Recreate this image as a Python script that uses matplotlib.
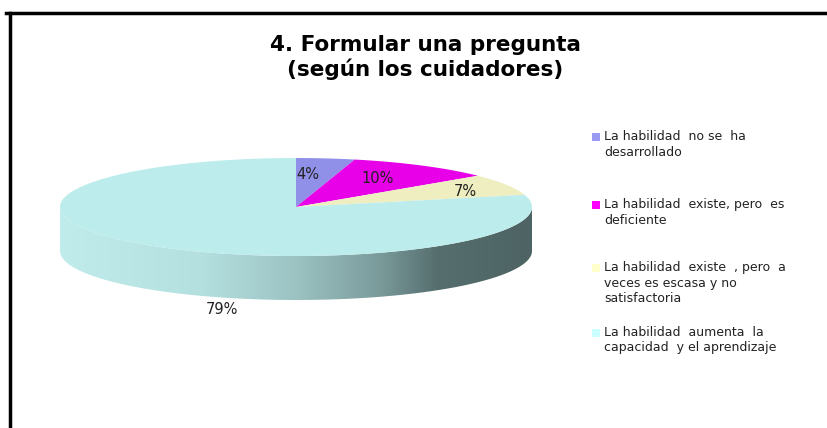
import numpy as np
import matplotlib
matplotlib.use("Agg")
import matplotlib.pyplot as plt
from matplotlib.patches import Polygon, Rectangle
from matplotlib.colors import LinearSegmentedColormap
from matplotlib.lines import Line2D

title = "4. Formular una pregunta\n(según los cuidadores)"
categories = [
    "La habilidad  no se  ha\ndesarrollado",
    "La habilidad  existe, pero  es\ndeficiente",
    "La habilidad  existe  , pero  a\nveces es escasa y no\nsatisfactoria",
    "La habilidad  aumenta  la\ncapacidad  y el aprendizaje",
]
values = [4, 10, 7, 79]
pct_labels = ["4%", "10%", "7%", "79%"]
slice_colors = ["#9090E8", "#E800E8", "#EEEEC0", "#BDECEC"]
legend_colors = ["#9999F2", "#FF00FF", "#FFFFCC", "#CCFFFF"]

W, H = 827, 428
fig = plt.figure(figsize=(W / 100, H / 100), dpi=100)
ax = fig.add_axes([0, 0, 1, 1])
ax.set_xlim(0, W)
ax.set_ylim(H, 0)
ax.axis("off")

plt.rcParams["font.family"] = ["DejaVu Sans"]

# frame
ax.add_line(Line2D([6, 826], [13, 13], color="black", lw=2.5))
ax.add_line(Line2D([9.5, 9.5], [13, 428], color="black", lw=2.5))

# pie geometry
cx, cy, a, b, depth = 296, 207, 236, 49, 44

def pt(theta, dy=0):
    return cx + a * np.sin(theta), cy - b * np.cos(theta) + dy

# side (front half, from 90 to 270 deg clockwise from top)
th = np.linspace(np.pi / 2, 3 * np.pi / 2, 200)
top_x, top_y = pt(th)
bot_x, bot_y = pt(th[::-1], depth)
side = np.column_stack([np.concatenate([top_x, bot_x]), np.concatenate([top_y, bot_y])])
side_poly = Polygon(side, closed=True, facecolor="none", edgecolor="none")
ax.add_patch(side_poly)
cmap = LinearSegmentedColormap.from_list(
    "side",
    [(0.0, "#C0ECEC"), (0.3, "#B4E0E0"), (0.5, "#9CC2C2"), (0.68, "#7A9A9A"),
     (0.8, "#566E6E"), (1.0, "#4E6464")])
grad = np.linspace(0, 1, 256).reshape(1, -1)
im = ax.imshow(grad, cmap=cmap, extent=[cx - a, cx + a, cy + b + depth, cy - b],
               aspect="auto", zorder=1)
im.set_clip_path(side_poly)

# top wedges
cum = np.concatenate([[0], np.cumsum(values)]) / sum(values) * 2 * np.pi
for i, v in enumerate(values):
    t = np.linspace(cum[i], cum[i + 1], 200)
    xs, ys = pt(t)
    poly = np.column_stack([np.concatenate([[cx], xs]), np.concatenate([[cy], ys])])
    ax.add_patch(Polygon(poly, closed=True, facecolor=slice_colors[i],
                         edgecolor="none", zorder=2))

# percentage labels
label_pos = [(308, 174), (378, 178), (465, 191), (222, 309)]
for (x, y), s in zip(label_pos, pct_labels):
    ax.text(x, y, s, fontsize=10.5, ha="center", va="center", color="#222222", zorder=3)

# title
ax.text(425, 57.5, title, fontsize=15.5, fontweight="bold", ha="center", va="center",
        linespacing=1.15)

# legend
entry_y = [137, 205, 268, 333]
for y, lab, c in zip(entry_y, categories, legend_colors):
    ax.add_patch(Rectangle((592, y - 4), 8, 8, facecolor=c, edgecolor="none"))
    ax.text(604, y - 7.5, lab, fontsize=9, ha="left", va="top", color="#222222",
            linespacing=1.3)

fig.savefig("out.png", dpi=100)
